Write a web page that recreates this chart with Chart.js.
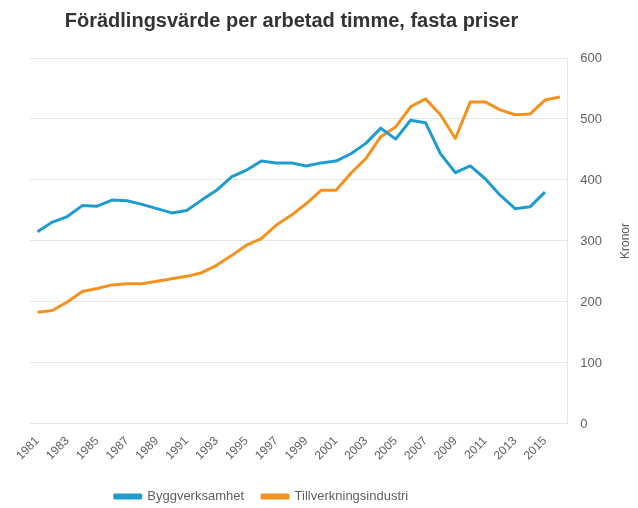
<!DOCTYPE html>
<html>
<head>
<meta charset="utf-8">
<script src="https://cdn.jsdelivr.net/npm/chart.js@4"></script>
<style>
  html, body { margin: 0; padding: 0; background: #fff; }
  #wrap { width: 638px; height: 508px; position: relative; }
</style>
</head>
<body>
<div id="wrap"><canvas id="chart"></canvas></div>
<script>
// Years on the x axis
const years = [
  '1981', '1982', '1983', '1984', '1985', '1986', '1987', '1988', '1989', '1990',
  '1991', '1992', '1993', '1994', '1995', '1996', '1997', '1998', '1999', '2000',
  '2001', '2002', '2003', '2004', '2005', '2006', '2007', '2008', '2009', '2010',
  '2011', '2012', '2013', '2014', '2015', '2016'
];

// Byggverksamhet (kronor per timme), no value for 2016
const byggverksamhet = [
  315, 331, 340, 358, 357, 367, 366, 360, 353, 346,
  350, 367, 383, 405, 416, 431, 428, 428, 423, 428,
  431, 443, 460, 485, 467, 498, 494, 443, 412, 423,
  402, 375, 353, 356, 380, null
];

// Tillverkningsindustri (kronor per timme)
const tillverkning = [
  183, 186, 200, 217, 222, 228, 230, 230, 234, 238,
  242, 248, 260, 276, 293, 304, 326, 342, 361, 383,
  383, 411, 435, 471, 487, 520, 533, 507, 468, 528,
  528, 515, 507, 508, 531, 536
];

const BLUE = '#1f9bd0';
const ORANGE = '#f3921f';
const TEXT_GRAY = '#5f5f5f';

Chart.defaults.font.family = '"Liberation Sans", Arial, sans-serif';

// Title and legend sit left of the canvas centre in the original
const shiftBoxes = {
  id: 'shiftBoxes',
  afterLayout(chart) {
    const moves = [[chart.titleBlock, -31, 0], [chart.legend, -61, 7]];
    moves.forEach(([box, dx, dy]) => {
      if (!box) return;
      box.left += dx;
      box.right += dx;
      box.top += dy;
      box.bottom += dy;
    });
  }
};

// Axis title reading bottom-to-top on the right side
const kronorTitle = {
  id: 'kronorTitle',
  afterDraw(chart) {
    const c = chart.ctx;
    const area = chart.chartArea;
    c.save();
    c.translate(626, (area.top + area.bottom) / 2);
    c.rotate(-Math.PI / 2);
    c.fillStyle = TEXT_GRAY;
    c.font = '12px "Liberation Sans", Arial, sans-serif';
    c.textAlign = 'center';
    c.textBaseline = 'middle';
    c.fillText('Kronor', 0, 0);
    c.restore();
  }
};

const ctx = document.getElementById('chart').getContext('2d');
new Chart(ctx, {
  type: 'line',
  data: {
    labels: years,
    datasets: [
      {
        label: 'Byggverksamhet',
        data: byggverksamhet,
        borderColor: BLUE,
        backgroundColor: BLUE,
        borderWidth: 3,
        borderJoinStyle: 'round',
        pointRadius: 0,
        tension: 0,
        spanGaps: false
      },
      {
        label: 'Tillverkningsindustri',
        data: tillverkning,
        borderColor: ORANGE,
        backgroundColor: ORANGE,
        borderWidth: 3,
        borderJoinStyle: 'round',
        pointRadius: 0,
        tension: 0
      }
    ]
  },
  options: {
    responsive: true,
    maintainAspectRatio: false,
    animation: false,
    layout: {
      padding: { left: 30, right: 23, top: 2, bottom: 2 }
    },
    scales: {
      x: {
        offset: true,
        grid: { display: false },
        border: { display: false },
        ticks: {
          color: TEXT_GRAY,
          font: { size: 12 },
          maxRotation: 45,
          minRotation: 45,
          autoSkip: false,
          padding: 2,
          callback: function (value, index) {
            return index % 2 === 0 ? this.getLabelForValue(value) : '';
          }
        }
      },
      y: {
        position: 'right',
        min: 0,
        max: 600,
        grid: { color: '#e6e6e6', lineWidth: 1, drawTicks: false },
        border: { display: true, color: '#e6e6e6' },
        ticks: {
          stepSize: 100,
          color: TEXT_GRAY,
          font: { size: 13 },
          padding: 13
        }
      }
    },
    plugins: {
      title: {
        display: true,
        text: 'Förädlingsvärde per arbetad timme, fasta priser',
        color: '#333333',
        font: { size: 20, weight: 'bold' },
        align: 'center',
        padding: { top: 7, bottom: 25 }
      },
      legend: {
        position: 'bottom',
        labels: {
          color: TEXT_GRAY,
          font: { size: 13 },
          boxWidth: 26,
          boxHeight: 3,
          padding: 18
        }
      },
      tooltip: { enabled: false }
    }
  },
  plugins: [shiftBoxes, kronorTitle]
});
</script>
</body>
</html>
